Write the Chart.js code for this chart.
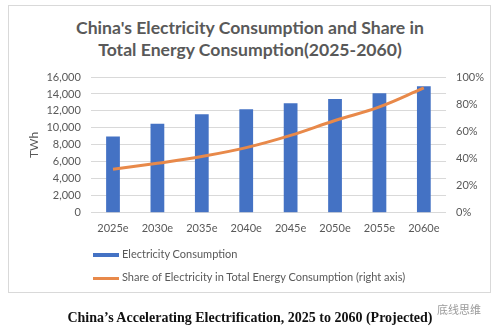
<!DOCTYPE html>
<html>
<head>
<meta charset="utf-8">
<script src="https://cdn.jsdelivr.net/npm/chart.js@4/dist/chart.umd.min.js"></script>
<style>
  html, body { margin: 0; padding: 0; background: #fff; }
  body { width: 500px; height: 333px; position: relative; overflow: hidden; font-family: "Lato", "Open Sans", sans-serif; }
  #frame { position: absolute; left: 8px; top: 5px; width: 483px; height: 288px; border: 1px solid #d9d9d9; box-sizing: border-box; }
  #title { position: absolute; left: 0; top: 17px; width: 500px; text-align: center; color: #595959; font-weight: bold; font-size: 17.6px; line-height: 22px; font-family: "Lato", sans-serif; }
  #chart { position: absolute; left: 0; top: 0; }
  .leg { position: absolute; left: 93px; font-size: 11px; color: #595959; font-family: "Lato", sans-serif; white-space: nowrap; }
  .leg .sw { display: inline-block; width: 26px; vertical-align: middle; margin-right: 3px; }
  #caption { position: absolute; left: 0; top: 310px; width: 500px; text-align: center; font-family: "Liberation Serif", serif; font-weight: bold; font-size: 14px; color: #111; }
  #wm { position: absolute; left: 437px; top: 301px; font-size: 11px; color: #9a9a9a; font-family: "Noto Sans CJK SC", sans-serif; }
</style>
</head>
<body>
<div id="frame"></div>
<div id="title">China's Electricity Consumption and Share in<br>Total Energy Consumption(2025-2060)</div>
<canvas id="chart" width="500" height="333"></canvas>
<div class="leg" style="top:247px"><span class="sw" style="height:4px;background:#4472C4"></span>Electricity Consumption</div>
<div class="leg" style="top:270px"><span class="sw" style="height:3px;background:#E8894A"></span>Share of Electricity in Total Energy Consumption (right axis)</div>
<div id="caption">China’s Accelerating Electrification, 2025 to 2060 (Projected)</div>
<div id="wm">底线思维</div>
<script>
const categories = ['2025e', '2030e', '2035e', '2040e', '2045e', '2050e', '2055e', '2060e'];
const consumptionTWh = [9000, 10500, 11600, 12200, 12900, 13400, 14100, 14900];
const sharePercent = [32, 36.5, 41.5, 48, 57, 68, 78, 92];
const leftTicks = [0, 2000, 4000, 6000, 8000, 10000, 12000, 14000, 16000];
const rightTicks = [0, 20, 40, 60, 80, 100];

const tickFont = { family: 'Lato, "Open Sans", sans-serif', size: 11 };
const grey = '#595959';

new Chart(document.getElementById('chart'), {
  data: {
    labels: categories,
    datasets: [
      {
        type: 'line',
        label: 'Share of Electricity in Total Energy Consumption (right axis)',
        data: sharePercent,
        yAxisID: 'y1',
        borderColor: '#E8894A',
        borderWidth: 3,
        pointRadius: 0,
        tension: 0.4,
        order: 0
      },
      {
        type: 'bar',
        label: 'Electricity Consumption',
        data: consumptionTWh,
        yAxisID: 'y',
        backgroundColor: '#4472C4',
        categoryPercentage: 0.62,
        barPercentage: 0.5,
        order: 1
      }
    ]
  },
  options: {
    responsive: false,
    animation: false,
    devicePixelRatio: 1,
    layout: { padding: { left: 23, right: 6, top: 77, bottom: 89 } },
    plugins: { legend: { display: false }, tooltip: { enabled: false } },
    scales: {
      x: {
        grid: { display: false, drawTicks: false },
        border: { display: false },
        ticks: { color: grey, font: tickFont, padding: 9 }
      },
      y: {
        position: 'left',
        min: 0, max: 16000,
        afterBuildTicks: (ax) => { ax.ticks = leftTicks.map(v => ({ value: v })); },
        grid: { color: '#d9d9d9', drawTicks: false },
        border: { display: false },
        ticks: { color: grey, font: tickFont, padding: 10, callback: (v) => v.toLocaleString('en-US') },
        title: { display: true, text: 'TWh', color: grey, font: { family: 'Lato, sans-serif', size: 12 }, padding: { top: 4, bottom: -5 } }
      },
      y1: {
        position: 'right',
        min: 0, max: 100,
        afterBuildTicks: (ax) => { ax.ticks = rightTicks.map(v => ({ value: v })); },
        grid: { display: false, drawTicks: false },
        border: { display: false },
        ticks: { color: grey, font: tickFont, padding: 10, callback: (v) => v + '%' }
      }
    }
  }
});
</script>
</body>
</html>
